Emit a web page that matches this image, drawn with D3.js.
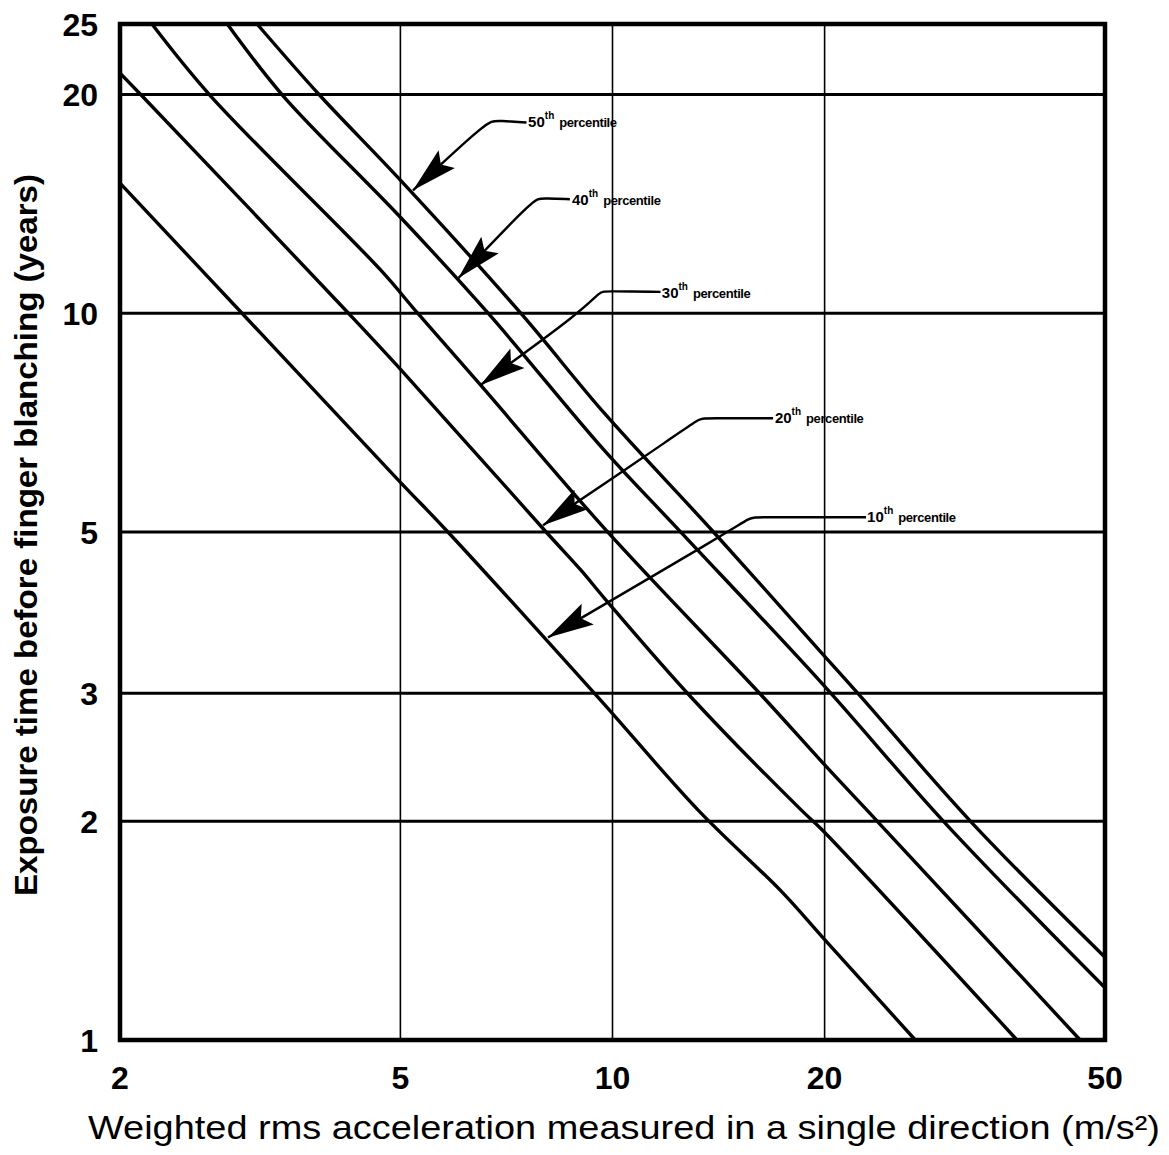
<!DOCTYPE html>
<html>
<head>
<meta charset="utf-8">
<script src="https://cdn.jsdelivr.net/npm/d3@7/dist/d3.min.js"></script>
<style>
  body { margin: 0; background: #fff; }
</style>
</head>
<body>
<div id="chart"></div>
<script>
// axis ticks and grid values
const xTicks = [2, 5, 10, 20, 50];
const yTicks = [1, 2, 3, 5, 10, 20, 25];
const xGrid = [5, 10, 20];
const yGrid = [2, 3, 5, 10, 20];

// percentile curves: [acceleration m/s2, years]
const p10 = [[2, 15.1], [2.98, 10], [4.97, 5.89], [5.84, 5], [9.54, 2.96], [13.24, 2.07], [17.38, 1.6], [19.93, 1.38], [26.9, 1]];
const p20 = [[2, 21.4], [2.15, 19.9], [4.22, 10], [4.97, 8.43], [8.05, 5], [9.02, 4.43], [9.79, 4.03], [12.94, 2.96], [18.55, 2.07], [19.8, 1.95], [37.5, 1]];
const p30 = [[2.22, 25], [2.69, 19.9], [4.69, 11.46], [5.29, 10], [6.5, 7.96], [9.79, 5.03], [16.38, 2.96], [19.93, 2.4], [23.87, 1.99], [46.1, 1]];
const p40 = [[2.84, 25], [3.41, 19.9], [4.97, 13.64], [6.66, 10], [9.73, 6.48], [12.52, 4.99], [19.8, 3.1], [29.63, 1.99], [50, 1.18]];
const p50 = [[3.13, 25], [3.85, 19.9], [4.97, 15.34], [7.41, 10], [9.73, 7.29], [13.91, 5], [19.8, 3.41], [22.43, 2.98], [32.37, 1.99], [50, 1.3]];

const series = [p10, p20, p30, p40, p50];

// callouts: label number, label anchor, leader bends, arrow tip (data units)
const callouts = [
  { num: '50', at: [7.59, 18.3], path: [[7.55, 18.3], [6.9, 18.4], [6.75, 18.4], [6.5, 18.0], [5.21, 14.76]] },
  { num: '40', at: [8.76, 14.3], path: [[8.7, 14.35], [8.0, 14.39], [7.85, 14.39], [7.6, 14.1], [6.04, 11.17]] },
  { num: '30', at: [11.75, 10.65], path: [[11.7, 10.7], [9.8, 10.72], [9.6, 10.72], [9.1, 10.1], [6.49, 7.96]] },
  { num: '20', at: [17.0, 7.17], path: [[16.9, 7.17], [13.6, 7.17], [13.3, 7.17], [12.6, 6.9], [7.97, 5.11]] },
  { num: '10', at: [22.98, 5.24], path: [[22.9, 5.24], [16.0, 5.24], [15.7, 5.24], [14.6, 5.0], [8.1, 3.58]] }
];

const width = 1169;
const height = 1155;
const margin = { left: 120, right: 64, top: 24, bottom: 115 };

const svg = d3.select('#chart')
  .append('svg')
  .attr('width', width)
  .attr('height', height)
  .style('font-family', '"Liberation Sans", Arial, sans-serif');

const x = d3.scaleLog().domain([2, 50]).range([margin.left, width - margin.right]);
const y = d3.scaleLog().domain([1, 25]).range([height - margin.bottom, margin.top]);

// arrowhead marker
svg.append('defs')
  .append('marker')
  .attr('id', 'arrow')
  .attr('markerUnits', 'userSpaceOnUse')
  .attr('viewBox', '-46 -13 48 26')
  .attr('markerWidth', 48)
  .attr('markerHeight', 26)
  .attr('refX', 0)
  .attr('refY', 0)
  .attr('orient', 'auto')
  .append('path')
  .attr('d', 'M0,0 L-46,-12 L-38,0 L-46,12 Z')
  .attr('fill', '#000');

// grid lines
svg.append('g')
  .selectAll('line')
  .data(yGrid)
  .enter()
  .append('line')
  .attr('x1', x(2))
  .attr('x2', x(50))
  .attr('y1', (d) => y(d))
  .attr('y2', (d) => y(d))
  .attr('stroke', '#000')
  .attr('stroke-width', 3);

svg.append('g')
  .selectAll('line')
  .data(xGrid)
  .enter()
  .append('line')
  .attr('x1', (d) => x(d))
  .attr('x2', (d) => x(d))
  .attr('y1', y(25))
  .attr('y2', y(1))
  .attr('stroke', '#000')
  .attr('stroke-width', 1.6);

// curves
const line = d3.line()
  .x((d) => x(d[0]))
  .y((d) => y(d[1]))
  .curve(d3.curveCatmullRom.alpha(0.5));

svg.append('g')
  .selectAll('path')
  .data(series)
  .enter()
  .append('path')
  .attr('d', line)
  .attr('fill', 'none')
  .attr('stroke', '#000')
  .attr('stroke-width', 3.4)
  .attr('stroke-linejoin', 'round');

// frame
svg.append('rect')
  .attr('x', x(2))
  .attr('y', y(25))
  .attr('width', x(50) - x(2))
  .attr('height', y(1) - y(25))
  .attr('fill', 'none')
  .attr('stroke', '#000')
  .attr('stroke-width', 4.5);

// callout leaders and labels
const leader = d3.line()
  .x((d) => x(d[0]))
  .y((d) => y(d[1]))
  .curve(d3.curveBasis);

svg.append('g')
  .selectAll('path')
  .data(callouts)
  .enter()
  .append('path')
  .attr('d', (d) => leader(d.path))
  .attr('fill', 'none')
  .attr('stroke', '#000')
  .attr('stroke-width', 2.4)
  .attr('marker-end', 'url(#arrow)');

const labels = svg.append('g')
  .selectAll('text')
  .data(callouts)
  .enter()
  .append('text')
  .attr('x', (d) => x(d.at[0]))
  .attr('y', (d) => y(d.at[1]) + 5)
  .attr('font-weight', 'bold')
  .attr('font-size', 15);

labels.append('tspan').text((d) => d.num);
labels.append('tspan')
  .attr('font-size', 10)
  .attr('dy', -8)
  .text('th');
labels.append('tspan')
  .attr('dy', 8)
  .attr('dx', 5)
  .attr('font-size', 13)
  .attr('letter-spacing', -0.4)
  .text('percentile');

// tick labels
svg.append('g')
  .selectAll('text')
  .data(xTicks)
  .enter()
  .append('text')
  .attr('x', (d) => x(d))
  .attr('y', y(1) + 49)
  .attr('text-anchor', 'middle')
  .attr('font-weight', 'bold')
  .attr('font-size', 32)
  .text((d) => d);

svg.append('g')
  .selectAll('text')
  .data(yTicks)
  .enter()
  .append('text')
  .attr('x', x(2) - 22)
  .attr('y', (d) => y(d) + 12)
  .attr('text-anchor', 'end')
  .attr('font-weight', 'bold')
  .attr('font-size', 32)
  .text((d) => d);

// axis titles
svg.append('text')
  .attr('x', 88)
  .attr('y', 1139)
  .attr('font-size', 33)
  .attr('textLength', 1072)
  .attr('lengthAdjust', 'spacingAndGlyphs')
  .text('Weighted rms acceleration measured in a single direction (m/s²)');

svg.append('text')
  .attr('transform', 'translate(37,535) rotate(-90)')
  .attr('text-anchor', 'middle')
  .attr('font-weight', 'bold')
  .attr('font-size', 31)
  .attr('textLength', 722)
  .attr('lengthAdjust', 'spacingAndGlyphs')
  .text('Exposure time before finger blanching (years)');
</script>
</body>
</html>
